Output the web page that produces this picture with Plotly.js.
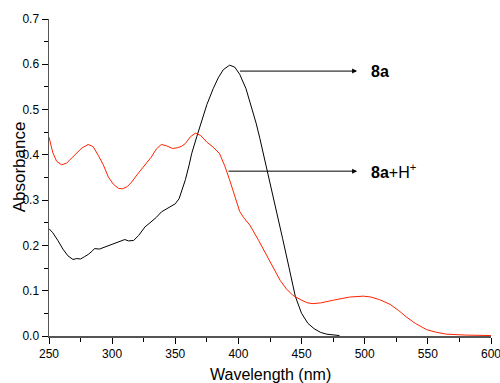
<!DOCTYPE html>
<html>
<head>
<meta charset="utf-8">
<script src="https://cdn.plot.ly/plotly-3.0.1.min.js"></script>
<style>html,body{margin:0;padding:0;background:#fff;}#chart{width:500px;height:383px;}</style>
</head>
<body>
<div id="chart"></div>
<script>
// Wavelength (nm) and absorbance for 8a (black)
const wl8a = [250,253,257,261,265,269,272,275,278,281,284,286,290,295,300,305,310,313,317,321,326,330,335,339,344,350,353,355,358,361,363,367,371,375,380,384,388,393,397,401,406,410,414,417,420,423,427,431,435,440,445,450,455,460,465,470,480];
const abs8a = [0.237,0.228,0.211,0.192,0.177,0.169,0.171,0.170,0.175,0.180,0.187,0.193,0.192,0.197,0.202,0.207,0.213,0.210,0.211,0.222,0.241,0.250,0.262,0.274,0.283,0.292,0.303,0.318,0.345,0.378,0.403,0.440,0.476,0.511,0.546,0.570,0.588,0.598,0.594,0.578,0.546,0.510,0.470,0.436,0.400,0.366,0.316,0.265,0.215,0.152,0.088,0.050,0.028,0.016,0.008,0.004,0.001];
// Wavelength (nm) and absorbance for 8a+H+ (red)
const wl8aH = [250,253,256,260,264,268,272,276,281,285,289,293,297,301,305,308,312,315.5,320,326,331,335,339,343,348,352,355,358,362,366,370,375,380,385,389,393,397,401,404,409,416,420,425,429,433,438,443,450,455,459,465,475,488,499,505,512,520,527,533,540,549,557,565,580,600];
const abs8aH = [0.439,0.405,0.386,0.378,0.382,0.393,0.403,0.415,0.423,0.418,0.399,0.378,0.351,0.335,0.326,0.325,0.330,0.340,0.357,0.377,0.395,0.413,0.423,0.420,0.414,0.416,0.419,0.425,0.440,0.448,0.443,0.428,0.417,0.403,0.377,0.345,0.310,0.275,0.262,0.245,0.211,0.190,0.167,0.145,0.123,0.104,0.090,0.079,0.073,0.0715,0.073,0.079,0.086,0.088,0.086,0.080,0.070,0.056,0.042,0.028,0.014,0.008,0.004,0.002,0.001];
const xTicks = [250,300,350,400,450,500,550,600];
const yTicks = [0,0.1,0.2,0.3,0.4,0.5,0.6,0.7];
const yTickText = ['0.0','0.1','0.2','0.3','0.4','0.5','0.6','0.7'];

const font = 'Liberation Sans, Arial, sans-serif';
const axisCol = '#555';

const traces = [
  {x: wl8a, y: abs8a, mode: 'lines', line: {color: '#000', width: 1}, hoverinfo: 'skip'},
  {x: wl8aH, y: abs8aH, mode: 'lines', line: {color: '#ff2200', width: 1}, hoverinfo: 'skip'}
];

const layout = {
  width: 500, height: 383,
  margin: {l: 49, r: 9, t: 19, b: 47, pad: 0},
  paper_bgcolor: '#fff', plot_bgcolor: '#fff',
  showlegend: false,
  font: {family: font, size: 12, color: '#000'},
  xaxis: {
    range: [250, 600], tickvals: xTicks, ticktext: xTicks.map(String),
    ticklabeloverflow: 'allow',
    showgrid: false, zeroline: false, showline: true, linecolor: axisCol, linewidth: 1.5,
    ticks: 'outside', ticklen: 6, tickwidth: 1, tickcolor: '#000',
    minor: {dtick: 25, tick0: 250, ticks: 'outside', ticklen: 4, tickcolor: '#000', showgrid: false},
    tickfont: {family: font, size: 12, color: '#000'}
  },
  yaxis: {
    range: [0, 0.7], tickvals: yTicks, ticktext: yTickText,
    showgrid: false, zeroline: false, showline: true, linecolor: axisCol, linewidth: 1.5,
    ticks: 'outside', ticklen: 6, tickwidth: 1, tickcolor: '#000',
    minor: {dtick: 0.05, tick0: 0, ticks: 'outside', ticklen: 4, tickcolor: '#000', showgrid: false},
    tickfont: {family: font, size: 12, color: '#000'}
  },
  annotations: [
    {xref: 'x', yref: 'y', axref: 'x', ayref: 'y', x: 494, y: 0.585, ax: 400, ay: 0.585,
     showarrow: true, arrowhead: 2, arrowsize: 1, arrowwidth: 1, arrowcolor: '#000', text: ''},
    {xref: 'x', yref: 'y', axref: 'x', ayref: 'y', x: 494, y: 0.364, ax: 391, ay: 0.364,
     showarrow: true, arrowhead: 2, arrowsize: 1, arrowwidth: 1, arrowcolor: '#000', text: ''},
    {xref: 'x', yref: 'y', x: 503, y: 0.585, xanchor: 'left', yanchor: 'middle', showarrow: false,
     text: '<b>8a</b>', font: {family: font, size: 16, color: '#000'}},
    {xref: 'x', yref: 'y', x: 503, y: 0.364, xanchor: 'left', yanchor: 'middle', showarrow: false,
     text: '<b>8a</b>+H<sup>+</sup>', font: {family: font, size: 16, color: '#000'}},
    {xref: 'paper', yref: 'paper', x: 0.5, y: -0.087, xanchor: 'center', yanchor: 'top', showarrow: false,
     text: 'Wavelength (nm)', font: {family: font, size: 16, color: '#000'}},
    {xref: 'paper', yref: 'paper', x: -0.068, y: 0.535, xanchor: 'center', yanchor: 'middle', showarrow: false,
     textangle: -90, text: 'Absorbance', font: {family: font, size: 17, color: '#000'}}
  ]
};

Plotly.newPlot('chart', traces, layout, {staticPlot: true, displayModeBar: false});
</script>
</body>
</html>
